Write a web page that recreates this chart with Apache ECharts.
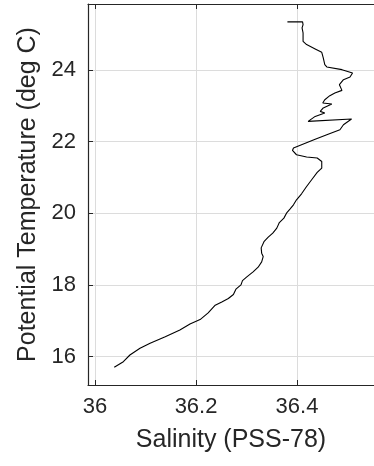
<!DOCTYPE html>
<html>
<head>
<meta charset="utf-8">
<script src="https://cdn.jsdelivr.net/npm/echarts@6/dist/echarts.min.js"></script>
<style>
html,body{margin:0;padding:0;background:#fff;}
#chart{width:374px;height:466px;}
</style>
</head>
<body>
<div id="chart"></div>
<script>
// Salinity (PSS-78), ordered from surface to depth
const salinity = [36.381,36.411,36.412,36.410,36.412,36.412,36.419,36.436,36.449,36.452,36.455,36.459,36.489,36.510,36.505,36.492,36.484,36.489,36.475,36.465,36.455,36.451,36.469,36.452,36.446,36.455,36.436,36.422,36.508,36.492,36.485,36.459,36.436,36.393,36.391,36.399,36.419,36.440,36.449,36.449,36.440,36.429,36.419,36.409,36.399,36.393,36.386,36.380,36.374,36.365,36.360,36.352,36.343,36.335,36.329,36.330,36.333,36.330,36.323,36.313,36.300,36.292,36.289,36.279,36.274,36.264,36.251,36.238,36.224,36.208,36.188,36.168,36.139,36.109,36.089,36.069,36.056,36.038];
// Potential temperature (deg C)
const potTemp = [25.341,25.341,25.265,25.173,25.034,24.799,24.707,24.587,24.492,24.335,24.148,24.084,24.008,23.916,23.804,23.729,23.589,23.430,23.358,23.282,23.170,23.078,23.050,22.939,22.844,22.799,22.704,22.564,22.631,22.472,22.332,22.193,22.067,21.821,21.754,21.634,21.570,21.542,21.447,21.263,21.140,20.936,20.749,20.545,20.377,20.237,20.117,20.022,19.866,19.743,19.587,19.447,19.335,19.218,19.036,18.888,18.793,18.645,18.497,18.366,18.218,18.123,18.003,17.883,17.735,17.623,17.528,17.436,17.221,17.036,16.913,16.746,16.559,16.374,16.235,16.047,15.860,15.704];
const xTicks = [36, 36.2, 36.4];
const yTicks = [16, 18, 20, 22, 24];
const xRange = [35.986, 36.5525];
const yRange = [15.21, 25.84];

const points = salinity.map((s, i) => [s, potTemp[i]]);
const font = 'Liberation Sans, Arial, Helvetica, sans-serif';
const axisColor = '#262626';

const chart = echarts.init(document.getElementById('chart'), null, {renderer: 'canvas'});
chart.setOption({
  animation: false,
  backgroundColor: '#ffffff',
  grid: {left: 88, top: 4, right: 0, bottom: 81, containLabel: false},
  xAxis: [{
    type: 'value', position: 'bottom', min: xRange[0], max: xRange[1],
    name: 'Salinity (PSS-78)', nameLocation: 'middle', nameGap: 43,
    nameTextStyle: {fontFamily: font, fontSize: 25, color: axisColor},
    axisLine: {show: true, onZero: false, lineStyle: {color: axisColor, width: 1.2}},
    axisTick: {show: true, inside: true, length: 5, customValues: xTicks, lineStyle: {color: axisColor}},
    axisLabel: {show: true, customValues: xTicks, margin: 11, fontFamily: font, fontSize: 22, color: axisColor,
      formatter: v => String(Math.round(v * 10) / 10)},
    splitLine: {show: true, lineStyle: {color: '#dcdcdc', width: 1}}
  }, {
    type: 'value', position: 'top', min: xRange[0], max: xRange[1],
    axisLine: {show: true, onZero: false, lineStyle: {color: axisColor, width: 1.2}},
    axisTick: {show: true, inside: true, length: 5, customValues: xTicks, lineStyle: {color: axisColor}},
    axisLabel: {show: false},
    splitLine: {show: false}
  }],
  yAxis: [{
    type: 'value', position: 'left', min: yRange[0], max: yRange[1],
    name: 'Potential Temperature (deg C)', nameLocation: 'middle', nameGap: 44,
    nameTextStyle: {fontFamily: font, fontSize: 25, color: axisColor},
    axisLine: {show: true, onZero: false, lineStyle: {color: axisColor, width: 1.2}},
    axisTick: {show: true, inside: true, length: 5, customValues: yTicks, lineStyle: {color: axisColor}},
    axisLabel: {show: true, customValues: yTicks, margin: 12, fontFamily: font, fontSize: 22, color: axisColor},
    splitLine: {show: true, lineStyle: {color: '#dcdcdc', width: 1}}
  }],
  series: [{
    type: 'line', xAxisIndex: 0, yAxisIndex: 0,
    data: points, showSymbol: false, symbol: 'none',
    lineStyle: {color: '#000000', width: 1.1}, smooth: false
  }]
});
</script>
</body>
</html>
